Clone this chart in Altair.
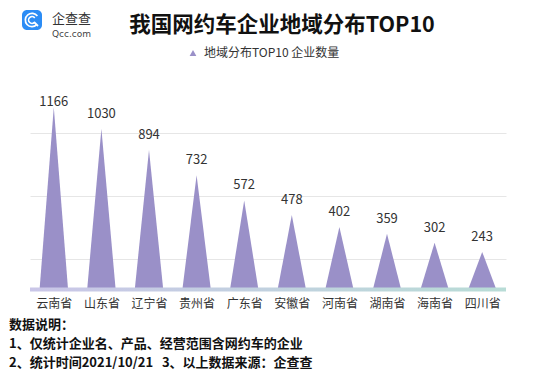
import math
import altair as alt
import pandas as pd

# ---------------- data ----------------
categories = ["云南省", "山东省", "辽宁省", "贵州省", "广东省", "安徽省", "河南省", "湖南省", "海南省", "四川省"]
values = [1166, 1030, 894, 732, 572, 478, 402, 359, 302, 243]
series_name = "地域分布TOP10 企业数量"
y_ticks = [200, 400, 600, 800, 1000, 1200]

title_text = "我国网约车企业地域分布TOP10"
notes = [
    "数据说明：",
    "1、仅统计企业名、产品、经营范围含网约车的企业",
    "2、统计时间2021/10/21\u00a0\u00a0\u00a03、以上数据来源：企查查",
]

FONT = "Noto Sans CJK SC"
W, H = 476, 188
HALF = 0.3  # half base width of each spike, in category units

# spike polygons built from the data
rows = []
for i, (c, v) in enumerate(zip(categories, values)):
    for off, yy in ((-HALF, 0), (0, v), (HALF, 0)):
        rows.append({"cat": c, "x": i + off, "y": yy, "series": series_name})
spikes = pd.DataFrame(rows)

labels = pd.DataFrame({"cat": categories, "x": list(range(len(categories))), "v": values})

label_expr = "[" + ",".join("'%s'" % c for c in categories) + "][datum.value]"

X = alt.X(
    "x:Q",
    scale=alt.Scale(domain=[-0.5, len(categories) - 0.5], nice=False, zero=False),
    axis=alt.Axis(
        values=list(range(len(categories))),
        labelExpr=label_expr,
        title=None,
        ticks=False,
        domain=False,
        grid=False,
        labelFont=FONT,
        labelFontSize=12,
        labelColor="#333333",
        labelPadding=8,
        labelOverlap=False,
        labelFlush=False,
    ),
)
Y = alt.Y(
    "y:Q",
    stack=None,
    scale=alt.Scale(domain=[0, 1200], nice=False),
    axis=alt.Axis(
        values=y_ticks,
        title=None,
        labels=False,
        ticks=False,
        domain=False,
        grid=True,
        gridColor="#e6e6e6",
        gridWidth=1,
    ),
)

spike_layer = alt.Chart(spikes).mark_area(opacity=1, interpolate="linear").encode(
    x=X,
    y=Y,
    detail="cat:N",
    color=alt.Color(
        "series:N",
        scale=alt.Scale(range=["#9a90c8"]),
        legend=alt.Legend(
            orient="none",
            legendX=157,
            legendY=-55,
            title=None,
            symbolType="triangle-up",
            symbolSize=45,
            symbolStrokeWidth=0,
            labelFont=FONT,
            labelFontSize=12,
            labelColor="#333333",
            labelOffset=5,
            padding=0,
        ),
    ),
)

value_layer = alt.Chart(labels).transform_calculate(
    y="min(datum.v + 96, 1200)"
).mark_text(font=FONT, fontSize=13, color="#333333", baseline="middle", align="center").encode(
    x=X, y=alt.Y("y:Q"), text="v:Q"
)

one = pd.DataFrame({"a": [0]})

band = alt.Chart(one).mark_rect(
    fill=alt.LinearGradient(
        gradient="linear",
        stops=[alt.GradientStop(color="#cac6e8", offset=0), alt.GradientStop(color="#b8dcd6", offset=1)],
        x1=0, x2=1, y1=0, y2=0,
    )
).encode(x=alt.value(0), x2=alt.value(W), y=alt.value(H - 2.5), y2=alt.value(H + 1.5))

title_layer = alt.Chart(one).mark_text(
    text=title_text, font=FONT, fontSize=21.5, fontWeight="bold", color="#111111",
    align="center", baseline="middle",
).encode(x=alt.value(252), y=alt.value(-76))

# logo
logo_box = alt.Chart(one).mark_rect(color="#2b8cf5", cornerRadius=5).encode(
    x=alt.value(-8), x2=alt.value(12), y=alt.value(-92), y2=alt.value(-72)
)
logo_outer = alt.Chart(one).mark_arc(
    color="white", radius=7.5, radius2=5.8, theta=0.75 * math.pi, theta2=2.3 * math.pi
).encode(x=alt.value(2), y=alt.value(-82))
logo_inner = alt.Chart(one).mark_arc(
    color="white", radius=4.2, radius2=2.6, theta=0.75 * math.pi, theta2=2.3 * math.pi
).encode(x=alt.value(2), y=alt.value(-82))
logo_tail = alt.Chart(one).mark_rule(color="white", strokeWidth=1.8).encode(
    x=alt.value(4), y=alt.value(-80), x2=alt.value(8), y2=alt.value(-76)
)
logo_text1 = alt.Chart(one).mark_text(
    text="企查查", font=FONT, fontSize=13, color="#333333", align="left", baseline="middle"
).encode(x=alt.value(22), y=alt.value(-83.5))
logo_text2 = alt.Chart(one).mark_text(
    text="Qcc.com", font="DejaVu Sans", fontSize=9, color="#444444", align="left", baseline="middle"
).encode(x=alt.value(22), y=alt.value(-68.5))

note_layers = []
for k, t in enumerate(notes):
    note_layers.append(
        alt.Chart(one).mark_text(
            text=t, font=FONT, fontSize=13, fontWeight="bold", color="#111111",
            align="left", baseline="middle",
        ).encode(x=alt.value(-21), y=alt.value(223 + 19 * k))
    )

chart = alt.layer(
    spike_layer, band, value_layer, title_layer,
    logo_box, logo_outer, logo_inner, logo_tail, logo_text1, logo_text2,
    *note_layers,
).properties(
    width=W, height=H,
    autosize=alt.AutoSizeParams(type="none"),
    padding={"left": 22, "top": 94, "right": 21, "bottom": 91},
    background="white",
).configure_view(stroke=None)

chart.save("out.html", embed_options={"renderer": "svg", "actions": False})
